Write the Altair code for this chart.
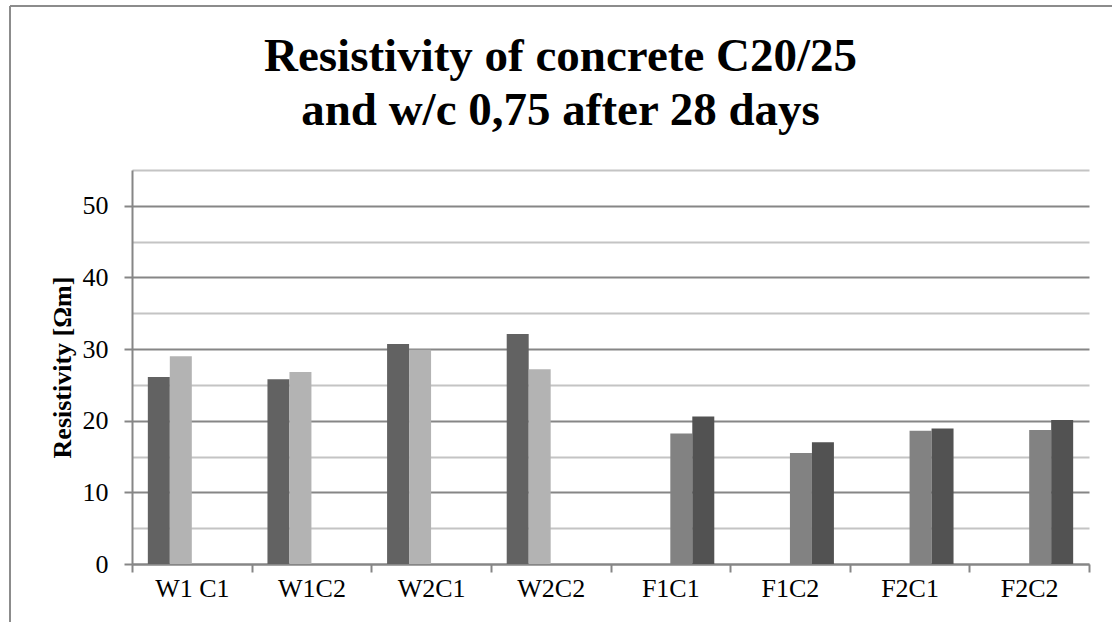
import altair as alt
import pandas as pd

# Specimens along the x axis
categories = ["W1 C1", "W1C2", "W2C1", "W2C2", "F1C1", "F1C2", "F2C1", "F2C2"]
w_specimens = categories[:4]
f_specimens = categories[4:]

# Four measurement series (W specimens use the first two, F specimens the last two)
series_names = ["W - 1", "W - 2", "F - 1", "F - 2"]
series_colors = ["#626262", "#b3b3b3", "#828282", "#525252"]

# Resistivity values [Ωm]
w_first = [26.1, 25.8, 30.7, 32.1]
w_second = [29.0, 26.8, 29.9, 27.2]
f_first = [18.2, 15.5, 18.6, 18.7]
f_second = [20.6, 17.0, 18.9, 20.1]

y_ticks = list(range(0, 56, 5))

title_lines = ["Resistivity of concrete C20/25", "and w/c 0,75 after 28 days"]

rows = []
for spec, a, b in zip(w_specimens, w_first, w_second):
    rows.append({"specimen": spec, "series": series_names[0], "resistivity": a})
    rows.append({"specimen": spec, "series": series_names[1], "resistivity": b})
for spec, a, b in zip(f_specimens, f_first, f_second):
    rows.append({"specimen": spec, "series": series_names[2], "resistivity": a})
    rows.append({"specimen": spec, "series": series_names[3], "resistivity": b})
df = pd.DataFrame(rows)

PLOT_W, PLOT_H = 957, 394
AXIS_GREY = "#868686"
MINOR_GREY = "#c4c4c4"
SERIF = "Liberation Serif"

major = "datum.value % 10 === 0"

bars = alt.Chart(df).mark_bar().encode(
    x=alt.X(
        "specimen:N",
        sort=categories,
        scale=alt.Scale(domain=categories, paddingInner=0, paddingOuter=0),
        axis=alt.Axis(
            title=None,
            labelAngle=0,
            tickBand="extent",
            grid=False,
            domainColor=AXIS_GREY,
            domainWidth=2,
            tickColor=AXIS_GREY,
            tickWidth=2,
            tickSize=8,
            labelFont=SERIF,
            labelFontSize=26,
            labelColor="black",
            labelPadding=3,
        ),
    ),
    xOffset=alt.XOffset(
        "series:N",
        sort=series_names,
        scale=alt.Scale(domain=series_names, paddingInner=0, paddingOuter=0.72),
    ),
    y=alt.Y(
        "resistivity:Q",
        scale=alt.Scale(domain=[0, 55], nice=False),
        axis=alt.Axis(
            values=y_ticks,
            title="Resistivity [Ωm]",
            labelExpr=f"{major} ? datum.label : ''",
            grid=True,
            gridColor=alt.condition(major, alt.value(AXIS_GREY), alt.value(MINOR_GREY)),
            gridWidth=2,
            domainColor=AXIS_GREY,
            domainWidth=2,
            tickColor=AXIS_GREY,
            tickWidth=2,
            tickSize=8,
            tickOpacity=alt.condition(major, alt.value(1), alt.value(0)),
            labelFont=SERIF,
            labelFontSize=26,
            labelColor="black",
            labelPadding=16,
            labelBaseline="middle",
            titleFont=SERIF,
            titleFontSize=26,
            titleFontWeight="bold",
            titleColor="black",
            titleAngle=270,
            titleX=-70,
            titleY=PLOT_H / 2,
            titleAlign="center",
            titleBaseline="middle",
        ),
    ),
    color=alt.Color(
        "series:N",
        scale=alt.Scale(domain=series_names, range=series_colors),
        legend=None,
    ),
)

# Outer chart frame (left and top edges)
frame_src = pd.DataFrame({"edge": [0]})
left_edge = alt.Chart(frame_src).mark_rule(color="#8c8c8c", strokeWidth=2).encode(
    x=alt.value(-122), y=alt.value(-164), y2=alt.value(PLOT_H + 60)
)
top_edge = alt.Chart(frame_src).mark_rule(color="#8c8c8c", strokeWidth=2).encode(
    x=alt.value(-122), x2=alt.value(PLOT_W + 40), y=alt.value(-164)
)

chart = (
    alt.layer(bars, left_edge, top_edge)
    .properties(
        width=PLOT_W,
        height=PLOT_H,
        autosize=alt.AutoSizeParams(type="none"),
        padding={"left": 132, "top": 170, "right": 23, "bottom": 58},
        background="white",
        title=alt.TitleParams(
            text=title_lines,
            font=SERIF,
            fontSize=47,
            fontWeight="bold",
            color="black",
            lineHeight=54,
            anchor="middle",
            dx=-50,
            offset=-130,
        ),
    )
    .configure_view(stroke=None)
)

chart.save("out.html", embed_options={"renderer": "svg", "actions": False})
